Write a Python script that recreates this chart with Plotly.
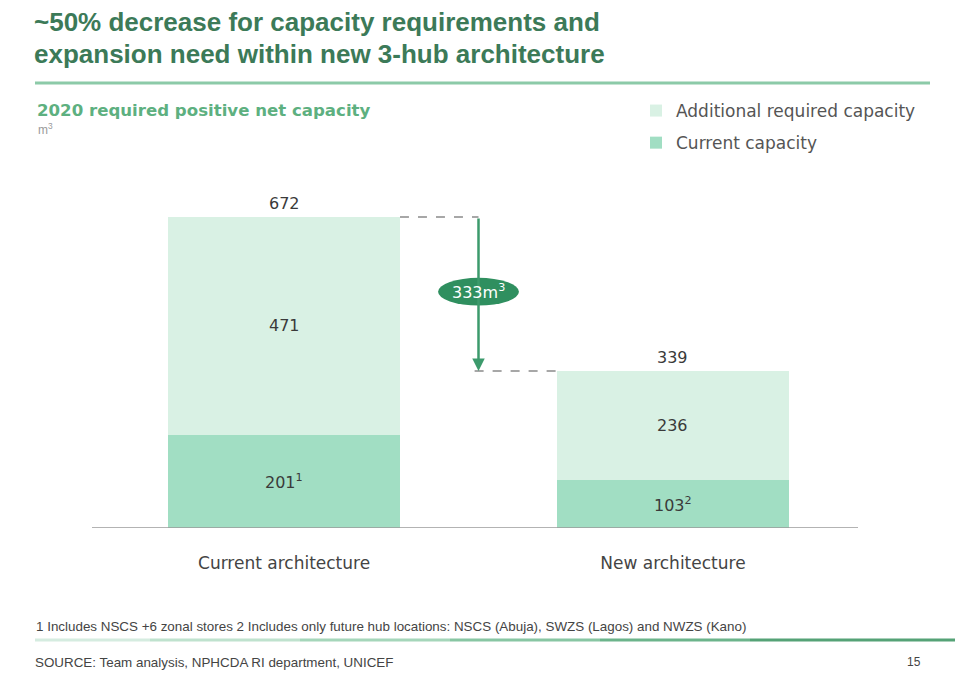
import plotly.graph_objects as go

categories = ["Current architecture", "New architecture"]
current_capacity = [201, 103]
additional_capacity = [471, 236]
current_sup = ["1", "2"]
totals = [c + a for c, a in zip(current_capacity, additional_capacity)]
reduction = totals[0] - totals[1]

xpos = [0, 1]
bw = 0.596

# plot area in page pixels (page has an 8px body margin)
OFF = 8
L, R, T, B = 92, 858, 150, 528
W, H = 964, 700
def px(x):
    return (x - L) / (R - L)
def py(y):
    return (B - y) / (B - T)

LIGHT = "#d9f1e4"
DARK = "#a1dec3"
TXT = "#3a3a3a"
WIDE = "DejaVu Sans, Verdana, sans-serif"

fig = go.Figure()
fig.add_trace(go.Bar(x=xpos, y=current_capacity, width=bw, name="Current capacity", legendgroup="a",
                     legendrank=2, marker=dict(color=DARK, line=dict(width=0)), hoverinfo="skip"))
fig.add_trace(go.Bar(x=xpos, y=additional_capacity, width=bw, name="Additional required capacity", legendgroup="b",
                     legendrank=1, marker=dict(color=LIGHT, line=dict(width=0)), hoverinfo="skip"))

ann = []
for i in range(2):
    ann.append(dict(x=xpos[i], y=current_capacity[i] / 2, xref="x", yref="y",
                    text=f"{current_capacity[i]}<sup>{current_sup[i]}</sup>", showarrow=False,
                    font=dict(size=16, color=TXT, family=WIDE)))
    ann.append(dict(x=xpos[i], y=current_capacity[i] + additional_capacity[i] / 2, xref="x", yref="y",
                    text=str(additional_capacity[i]), showarrow=False, font=dict(size=16, color=TXT, family=WIDE)))
    ann.append(dict(x=xpos[i], y=totals[i], xref="x", yref="y", yshift=14,
                    text=str(totals[i]), showarrow=False, font=dict(size=16, color=TXT, family=WIDE)))

# arrow
ann.append(dict(x=0.5, y=totals[1], ax=0.5, ay=totals[0], xref="x", yref="y", axref="x", ayref="y",
                showarrow=True, arrowhead=2, arrowsize=1, arrowwidth=2.5, arrowcolor="#3c9a6c", text=""))
mid = (totals[0] + totals[1]) / 2 + 5
ann.append(dict(x=0.5, y=mid, xref="x", yref="y", text=f"{reduction}m<sup>3</sup>", showarrow=False,
                font=dict(size=16, color="white", family=WIDE)))

shapes = [
    dict(type="line", xref="x", yref="y", x0=bw / 2, x1=0.5, y0=totals[0], y1=totals[0],
         line=dict(color="#8a8a8a", width=1.5, dash="dash")),
    dict(type="line", xref="x", yref="y", x0=0.49, x1=1 - bw / 2, y0=totals[1], y1=totals[1],
         line=dict(color="#8a8a8a", width=1.5, dash="dash")),
    dict(type="circle", xref="x", yref="y", x0=0.5 - 0.104, x1=0.5 + 0.104, y0=mid - 30, y1=mid + 30,
         fillcolor="#2f8f5f", line=dict(width=0)),
    # top rule
    dict(type="line", xref="paper", yref="paper", x0=px(35), x1=px(930), y0=py(83), y1=py(83),
         line=dict(color="#8ccaa8", width=3)),
    # axis baseline
    dict(type="line", xref="paper", yref="y", x0=0, x1=1, y0=0, y1=0,
         line=dict(color="#9a9a9a", width=1.5)),
]
# bottom rule, gradient-ish
segs = [("#d5ece0", 35, 150), ("#bfe2ce", 150, 300), ("#a5d6ba", 300, 450), ("#88c6a3", 450, 600),
        ("#6cb48b", 600, 750), ("#55a276", 750, 955)]
for c, a, b in segs:
    shapes.append(dict(type="line", xref="paper", yref="paper", x0=px(a), x1=px(b), y0=py(640), y1=py(640),
                       line=dict(color=c, width=3)))

TITLE_FONT = "Liberation Sans, Arial, sans-serif"
SMALL = "Liberation Sans, Arial, sans-serif"
ann += [
    dict(x=px(32), y=py(22), xref="paper", yref="paper", xanchor="left", yanchor="middle", showarrow=False,
         text="<b>~50% decrease for capacity requirements and</b>", font=dict(size=26, color="#3c7a58", family=TITLE_FONT)),
    dict(x=px(32), y=py(54), xref="paper", yref="paper", xanchor="left", yanchor="middle", showarrow=False,
         text="<b>expansion need within new 3-hub architecture</b>", font=dict(size=26, color="#3c7a58", family=TITLE_FONT)),
    dict(x=px(35), y=py(111), xref="paper", yref="paper", xanchor="left", yanchor="middle", showarrow=False,
         text="<b>2020 required positive net capacity</b>", font=dict(size=16.6, color="#5db080", family=WIDE)),
    dict(x=px(36), y=py(129), xref="paper", yref="paper", xanchor="left", yanchor="middle", showarrow=False,
         text="m<sup>3</sup>", font=dict(size=12, color="#9a9a9a")),
    dict(x=px(34), y=py(626), xref="paper", yref="paper", xanchor="left", yanchor="middle", showarrow=False,
         text="1 Includes NSCS +6 zonal stores 2 Includes only future hub locations: NSCS (Abuja), SWZS (Lagos) and NWZS (Kano)",
         font=dict(size=13.4, color="#444444", family=SMALL)),
    dict(x=px(33), y=py(662), xref="paper", yref="paper", xanchor="left", yanchor="middle", showarrow=False,
         text="SOURCE: Team analysis, NPHCDA RI department, UNICEF",
         font=dict(size=13.4, color="#444444", family=SMALL)),
    dict(x=px(914), y=py(662), xref="paper", yref="paper", xanchor="center", yanchor="middle", showarrow=False,
         text="15", font=dict(size=12, color="#444444")),
]

fig.update_layout(
    width=W, height=H, barmode="stack", bargap=0,
    margin=dict(l=L - OFF, r=W - (R - OFF), t=T - OFF, b=H - (B - OFF), pad=0),
    paper_bgcolor="white", plot_bgcolor="white",
    font=dict(family="Liberation Sans, Arial, sans-serif", color=TXT),
    xaxis=dict(range=[-0.494, 1.476], tickvals=xpos, ticktext=categories, showgrid=False, zeroline=False,
               showline=False, ticks="outside", ticklen=20, tickcolor="rgba(0,0,0,0)",
               tickfont=dict(size=17, color="#444444", family=WIDE), fixedrange=True),
    yaxis=dict(range=[0, (B - T) / 0.4628], visible=False, showgrid=False, zeroline=False, fixedrange=True),
    legend=dict(x=px(636), y=py(93), xanchor="left", yanchor="top", font=dict(size=17, color="#555555", family=WIDE),
                traceorder="grouped", itemwidth=30, tracegroupgap=7, bgcolor="rgba(0,0,0,0)"),
    showlegend=True,
    annotations=ann,
    shapes=shapes,
)
fig.write_html("out.html")
